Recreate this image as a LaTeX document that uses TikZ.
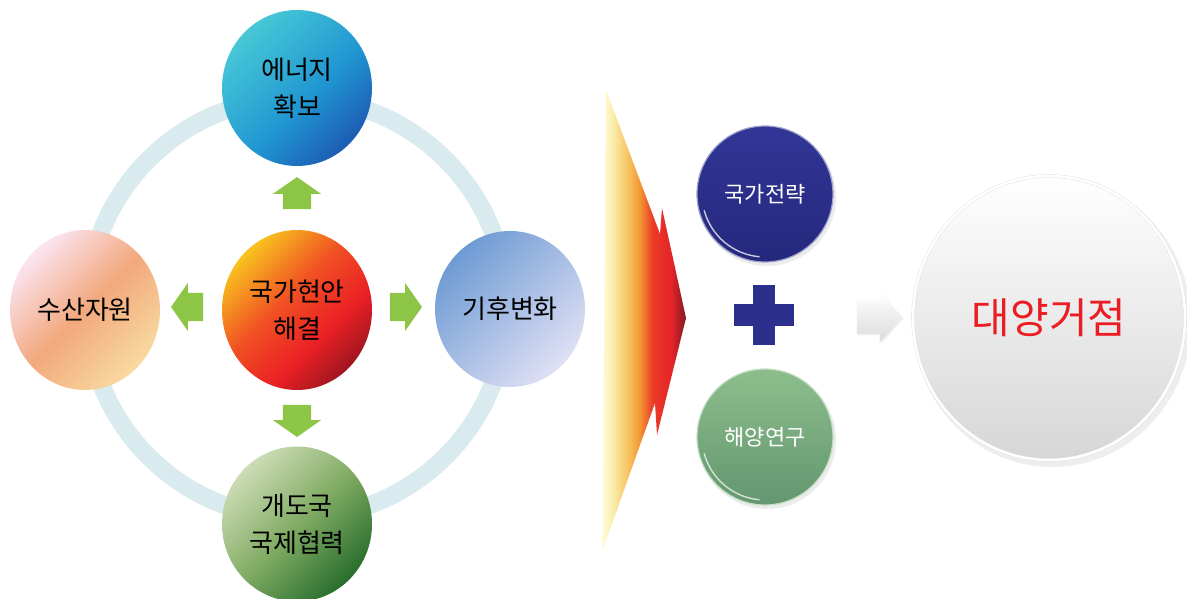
\documentclass[tikz,border=0pt]{standalone}
\usepackage{fontspec}
\newfontfamily\kr{Noto Sans CJK KR}
\usetikzlibrary{shapes.geometric,shapes.arrows,calc}

\definecolor{ringc}{RGB}{217,235,239}
\definecolor{agreen}{RGB}{141,198,70}
\definecolor{navy}{RGB}{44,48,140}
\definecolor{navyd}{RGB}{36,40,125}
\definecolor{navyl}{RGB}{50,54,150}
\definecolor{bgreen}{RGB}{140,190,140}
\definecolor{bgreend}{RGB}{100,150,112}
\definecolor{redtxt}{RGB}{236,28,36}

\definecolor{fl0}{RGB}{255,252,220}
\definecolor{fl1}{RGB}{250,238,175}
\definecolor{fl2}{RGB}{246,195,95}
\definecolor{fl3}{RGB}{242,150,50}
\definecolor{fl4}{RGB}{236,60,40}
\definecolor{fl5}{RGB}{228,35,40}
\definecolor{fl6}{RGB}{130,25,35}
\pgfdeclarehorizontalshading{flame}{100bp}{color(0bp)=(fl0); color(25bp)=(fl0); color(31bp)=(fl1); color(40.5bp)=(fl2); color(47.5bp)=(fl3); color(55bp)=(fl4); color(66.5bp)=(fl5); color(75bp)=(fl6); color(100bp)=(fl6)}

\definecolor{t0}{RGB}{28,92,178}
\definecolor{t1}{RGB}{32,150,210}
\definecolor{t2}{RGB}{72,200,214}
\pgfdeclareverticalshading{sTop}{100bp}{color(0bp)=(t0); color(25bp)=(t0); color(45bp)=(t1); color(75bp)=(t2); color(100bp)=(t2)}

\definecolor{l0}{RGB}{248,218,160}
\definecolor{l1}{RGB}{242,168,125}
\definecolor{l2}{RGB}{251,228,242}
\pgfdeclareverticalshading{sLeft}{100bp}{color(0bp)=(l0); color(25bp)=(l0); color(50bp)=(l1); color(75bp)=(l2); color(100bp)=(l2)}

\definecolor{c0}{RGB}{160,22,32}
\definecolor{c1}{RGB}{234,32,36}
\definecolor{c2}{RGB}{240,80,35}
\definecolor{c3}{RGB}{248,195,30}
\pgfdeclareverticalshading{sCenter}{100bp}{color(0bp)=(c0); color(25bp)=(c0); color(38bp)=(c1); color(55bp)=(c2); color(75bp)=(c3); color(100bp)=(c3)}

\definecolor{r0}{RGB}{224,224,244}
\definecolor{r1}{RGB}{110,155,212}
\pgfdeclareverticalshading{sRight}{100bp}{color(0bp)=(r0); color(25bp)=(r0); color(75bp)=(r1); color(100bp)=(r1)}

\definecolor{g0}{RGB}{40,110,45}
\definecolor{g1}{RGB}{130,172,100}
\definecolor{g2}{RGB}{205,220,182}
\pgfdeclareverticalshading{sBottom}{100bp}{color(0bp)=(g0); color(25bp)=(g0); color(50bp)=(g1); color(75bp)=(g2); color(100bp)=(g2)}

\tikzset{
  ball/.style={ellipse, inner sep=0pt, minimum width=150pt, minimum height=156pt,
    align=center, text=black, font=\kr\fontsize{26}{37}\selectfont, shading angle=45},
  garrowh/.style={single arrow, fill=agreen, inner xsep=0pt, inner ysep=14pt,
    minimum height=32pt, minimum width=48pt, single arrow head extend=10pt,
    single arrow tip angle=110},
  garrowv/.style={single arrow, fill=agreen, inner xsep=14pt, inner ysep=0pt,
    minimum height=32pt, minimum width=48pt, single arrow head extend=10pt,
    single arrow tip angle=110},
  grayarrow/.style={single arrow, inner xsep=0pt, inner ysep=16.5pt,
    minimum height=45pt, minimum width=50pt, single arrow head extend=8.5pt,
    single arrow tip angle=97},
  button/.style={circle, inner sep=0pt, minimum size=136pt, text=white,
    font=\kr\fontsize{22}{26}\selectfont},
}

\begin{document}
\begin{tikzpicture}[x=1pt,y=1pt]
\useasboundingbox (0,0) rectangle (1187,598);

% ring
\coordinate (ringcentre) at (297,290);
\draw[ringc, line width=18pt] (ringcentre) circle[radius=210];

% circles
\node[ball, shading=sTop, shading angle=45] (energy) at (297,510) {에너지\\확보};
\node[ball, shading=sLeft, shading angle=45, minimum height=160pt] (fish) at (85,288) {수산자원};
\node[ball, shading=sCenter, shading angle=45, minimum height=160pt] (core) at (297,288) {국가현안\\해결};
\node[ball, shading=sRight, shading angle=45] (climate) at (510,289) {기후변화};
\node[ball, shading=sBottom, shading angle=45, minimum height=155pt] (coop) at (297,74) {개도국\\국제협력};

% green arrows
\node[garrowv, shape border rotate=90] (aup) at (297,400) {};
\node[garrowv, shape border rotate=270] (adown) at (297,182) {};
\node[garrowh, shape border rotate=180] (aleft) at (192,291) {};
\node[garrowh] (aright) at (401,291) {};

% flame chevron
\shade[shading=flame]
  (606,508) -- (660,364) -- (662,390) -- (686,280) -- (657,163) -- (655,195) -- (602,46) -- cycle;

% navy button
\fill[gray!25, opacity=0.6] (767,401) circle[radius=69];
\node[button, top color=navyl, bottom color=navyd, draw=white!55!navy, line width=1.2pt] (strategy) at (765,404) {국가전략};
\draw[white, opacity=0.75, line width=1.4pt] ($(strategy.center)+(195:63)$) arc[start angle=195, end angle=265, radius=63];

% plus
\fill[navy] (734,272) rectangle (794,294);
\fill[navy] (753,253) rectangle (775,313);

% green button
\fill[gray!25, opacity=0.6] (767,158) circle[radius=69];
\node[button, top color=bgreen, bottom color=bgreend, draw=white!50!bgreen, line width=1.2pt] (ocean) at (765,161) {해양연구};
\draw[white, opacity=0.7, line width=1.4pt] ($(ocean.center)+(195:63)$) arc[start angle=195, end angle=265, radius=63];

% gray arrow
\node[grayarrow, fill=gray!30, xshift=1.5pt, yshift=-1.5pt, opacity=0.5] at (872,281) {};
\node[grayarrow, top color=white, bottom color=gray!28] (garr) at (872,281) {};

% big circle
\fill[gray!30, opacity=0.45] (1052,276) ellipse[x radius=139, y radius=145];
\node[ellipse, inner sep=0pt, minimum width=272pt, minimum height=284pt,
  top color=white, bottom color=gray!32, draw=gray!25, double=white,
  double distance=2.5pt, text=redtxt, font=\kr\fontsize{42}{48}\selectfont]
  (hub) at (1049,280) {대양거점};
\end{tikzpicture}
\end{document}
